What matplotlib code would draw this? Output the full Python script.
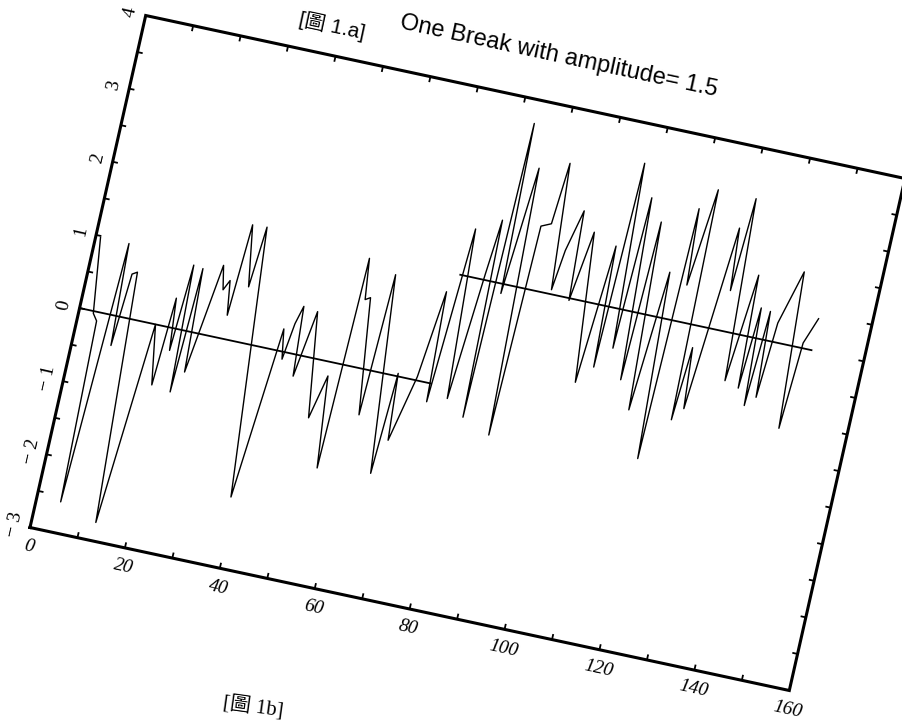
import numpy as np
import matplotlib
matplotlib.use("Agg")
import matplotlib.pyplot as plt
from matplotlib.transforms import Affine2D
from matplotlib.collections import LineCollection

# series (time index, value) at the turning points of the trace
t_obs = [1, 3, 4, 5, 7, 8, 9, 10, 13, 16, 18, 19, 20, 21, 22, 23, 24, 27, 28,
         29, 30, 31, 33, 34, 39, 42, 43, 44, 45, 46, 48, 51, 53, 55, 56, 57,
         58, 61, 62, 66, 67, 68, 71, 73, 74,
         76, 78, 80, 81, 82, 83, 84, 86, 88, 89, 91, 92, 94, 95, 97, 98, 100,
         103, 105, 106, 107, 109, 110, 112, 113, 115, 117, 119, 120, 121, 123,
         124, 125, 126, 129, 130, 131, 133, 135, 136, 137, 138, 139, 140, 141,
         144, 146, 147, 149]
y_obs = [0.98, -0.03, -0.12, -2.58, 0.98, -0.40, 0.59, 0.63, -2.75, 0.00,
         -0.80, 0.40, -0.30, 0.88, -0.84, 0.86, -0.54, 0.96, 0.64, 0.78, 0.32,
         1.57, 0.75, 1.58, -2.04, 0.30, -0.10, 0.40, 0.65, -0.29, 0.62, -0.79,
         -0.19, -1.42, 1.46, 0.91, 0.95, -0.61, 1.32, -1.34, 0.04, -0.86, 0.05,
         1.24, -0.25,
         2.14, -0.15, 1.58, 2.33, -0.35, 3.68, 1.37, 3.11, -0.51, 2.36, 2.42,
         3.26, 1.56, 2.11, 2.68, 1.47, 2.43, 0.42, 2.31, 0.67, 3.47, 0.97,
         3.04, 0.58, 2.75, 0.21, 2.12, -0.40, 3.03, 2.00, 3.33, 0.20, 1.20,
         0.38, 2.89, 2.05, 3.32, 0.86, 2.33, 0.80, 1.91, 0.59, 1.89, 0.73,
         1.76, 2.50, 0.39, 1.57, 1.93]

# fitted mean with one break
fit_t = [[0, 74], [75, 149]]
fit_y = [[0.0, 0.0], [1.5, 1.5]]

x_range = (0, 160)
y_range = (-3, 4)
x_labels = [0, 20, 40, 60, 80, 100, 120, 140, 160]
y_labels = [-3, -2, -1, 0, 1, 2, 3, 4]

fig = plt.figure(figsize=(9.03, 7.2), dpi=100)
ax = fig.add_axes([0, 0, 1, 1])
ax.set_xlim(0, 903)
ax.set_ylim(720, 0)
ax.axis("off")

# tilted plot frame: corner (0, -3) sits at pixel (30, 527.5)
ox, oy = 30.0, 527.5
xv = (759.3, 163.0)   # pixel vector spanning the whole x range
yv = (115.7, -512.0)  # pixel vector spanning the whole y range
sx = x_range[1] - x_range[0]
sy = y_range[1] - y_range[0]
m = np.array([[xv[0] / sx, yv[0] / sy, ox - yv[0] / sy * y_range[0]],
              [xv[1] / sx, yv[1] / sy, oy - yv[1] / sy * y_range[0]],
              [0, 0, 1]])
tilt = Affine2D(m) + ax.transData
ang_x = -np.degrees(np.arctan2(xv[1], xv[0]))
ang_y = np.degrees(np.arctan2(-yv[1], yv[0]))

x0, x1 = x_range
y0, y1 = y_range
ax.plot([x0, x1, x1, x0, x0], [y0, y0, y1, y1, y0], transform=tilt,
        color="black", lw=2.2, solid_joinstyle="miter")

# inward ticks on all four sides
tl_y = 0.075   # tick length in y units
tl_x = 1.1     # tick length in x units
segs = []
for t in range(x0 + 10, x1, 10):
    segs.append([(t, y0), (t, y0 + tl_y)])
    segs.append([(t, y1), (t, y1 - tl_y)])
for v in np.arange(y0 + 0.5, y1, 0.5):
    segs.append([(x0, v), (x0 + tl_x, v)])
    segs.append([(x1, v), (x1 - tl_x, v)])
ax.add_collection(LineCollection(segs, colors="black", linewidths=1.3,
                                 transform=tilt))

for t in x_labels:
    ax.text(t + 0.6, y0 - 0.25, str(t), transform=tilt, rotation=ang_x,
            rotation_mode="anchor", ha="center", va="center",
            family="Liberation Serif", style="italic", fontsize=14)
for v in y_labels:
    s = str(v).replace("-", "\u2212 ")
    ax.text(x0 - 3.2, v, s, transform=tilt, rotation=ang_y,
            rotation_mode="anchor", ha="center", va="center",
            family="Liberation Serif", fontsize=14)

# the series and the fitted step
ax.plot(t_obs, y_obs, transform=tilt, color="black", lw=1.0)
for ft, fy in zip(fit_t, fit_y):
    ax.plot(ft, fy, transform=tilt, color="black", lw=1.3)

cjk = ["Liberation Sans", "Noto Sans CJK TC"]
ax.text(31, 4.30, "[\u5716 1.a]", transform=tilt, rotation=ang_x,
        rotation_mode="anchor", ha="left", va="baseline",
        family=cjk, fontsize=15)
ax.text(51.4, 4.55, "One Break with amplitude= 1.5", transform=tilt,
        rotation=ang_x, rotation_mode="anchor", ha="left", va="baseline",
        family=cjk, fontsize=17)

fig.text(222 / 903, 1 - 708 / 720, "[\u5716 1b]", rotation=-8,
         rotation_mode="anchor", ha="left", va="baseline",
         family=["Liberation Serif", "Noto Sans CJK TC"], fontsize=15)

fig.savefig("out.png", dpi=100, facecolor="white")
